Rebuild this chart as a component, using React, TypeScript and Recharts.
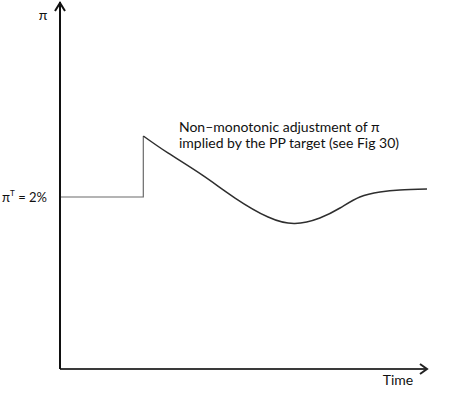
import React from 'react';
import { LineChart, Line, XAxis, YAxis, ReferenceDot } from 'recharts';

// Time index (0..100) and inflation (%)
const stepTime = [0, 22.7, 22.7];
const stepPi = [2, 2, 2.709];
const curveTime = [22.7, 29.4, 38.7, 47.7, 56.7, 64.0, 70.8, 76.3, 81.7, 87.2, 92.6, 100];
const curvePi = [2.709, 2.512, 2.256, 1.988, 1.767, 1.692, 1.756, 1.872, 2.0, 2.058, 2.081, 2.093];
const targetTicks = [2];
const yTop = 4.267;
const xEnd = 100;
const annotationLines = ['Non\u2013monotonic adjustment of \u03c0', 'implied by the PP target (see Fig 30)'];
const annotationAt = { x: 32.4, y: 2.756 };
const timeLabelAt = { x: 92.1, y: 0 };

const stepData = stepTime.map((t, i) => ({ t, pi: stepPi[i] }));
const curveData = curveTime.map((t, i) => ({ t, pi: curvePi[i] }));

const FONT = 'Lato, "Open Sans", sans-serif';
const FS = 14;

const TargetTick = (props: any) => {
  const { x, y } = props;
  return (
    <text x={x - 5} y={y + 5} textAnchor="end" fontFamily={FONT} fontSize={13} fill="#111">
      {'\u03c0'}
      <tspan fontSize={8} dy={-6}>T</tspan>
      <tspan dy={6}>{' = 2%'}</tspan>
    </text>
  );
};

export default function App() {
  return (
    <div style={{ position: 'absolute', left: 0, top: 0, background: '#fff' }}>
      <LineChart width={463} height={393} margin={{ top: 2, right: 36, bottom: 0, left: 0 }}>
        <XAxis
          type="number"
          dataKey="t"
          domain={[0, xEnd]}
          height={24}
          tick={false}
          tickLine={false}
          axisLine={{ stroke: '#3a3a3a', strokeWidth: 2 }}
          allowDuplicatedCategory={false}
        />
        <YAxis
          type="number"
          dataKey="pi"
          domain={[0, yTop]}
          width={60}
          ticks={targetTicks}
          tickLine={false}
          tick={<TargetTick />}
          axisLine={{ stroke: '#111', strokeWidth: 2 }}
          allowDataOverflow
        />
        <Line
          data={stepData}
          dataKey="pi"
          type="linear"
          stroke="#6a6a6a"
          strokeWidth={1.2}
          dot={false}
          isAnimationActive={false}
        />
        <Line
          data={curveData}
          dataKey="pi"
          type="natural"
          stroke="#2e2e2e"
          strokeWidth={1.5}
          dot={false}
          isAnimationActive={false}
        />
        <ReferenceDot
          x={0}
          y={yTop}
          ifOverflow="visible"
          shape={(p: any) => (
            <g>
              <path
                d={`M${p.cx - 5},${p.cy + 9} L${p.cx},${p.cy + 1} L${p.cx + 5},${p.cy + 9}`}
                fill="none"
                stroke="#111"
                strokeWidth={2}
              />
              <text x={p.cx - 17} y={p.cy + 18} textAnchor="middle" fontFamily={FONT} fontSize={FS} fill="#111">
                {'\u03c0'}
              </text>
            </g>
          )}
        />
        <ReferenceDot
          x={xEnd}
          y={0}
          ifOverflow="visible"
          shape={(p: any) => (
            <path
              d={`M${p.cx - 7},${p.cy - 5} L${p.cx},${p.cy} L${p.cx - 7},${p.cy + 5}`}
              fill="none"
              stroke="#222"
              strokeWidth={2}
            />
          )}
        />
        <ReferenceDot
          x={timeLabelAt.x}
          y={timeLabelAt.y}
          ifOverflow="visible"
          shape={(p: any) => (
            <text x={p.cx} y={p.cy + 16} textAnchor="middle" fontFamily={FONT} fontSize={FS} fill="#111">
              Time
            </text>
          )}
        />
        <ReferenceDot
          x={annotationAt.x}
          y={annotationAt.y}
          ifOverflow="visible"
          shape={(p: any) => (
            <text x={p.cx} y={p.cy} fontFamily={FONT} fontSize={FS} fill="#111">
              {annotationLines.map((l, i) => (
                <tspan key={i} x={p.cx} dy={i === 0 ? 0 : 16}>
                  {l}
                </tspan>
              ))}
            </text>
          )}
        />
      </LineChart>
    </div>
  );
}
